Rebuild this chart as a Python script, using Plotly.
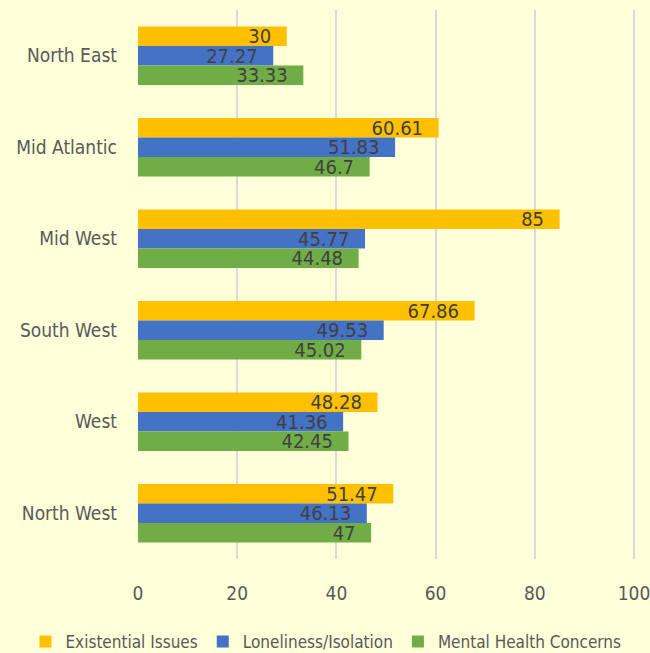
import plotly.graph_objects as go

regions = ["North East", "Mid Atlantic", "Mid West", "South West", "West", "North West"]
existential = [30, 60.61, 85, 67.86, 48.28, 51.47]
loneliness = [27.27, 51.83, 45.77, 49.53, 41.36, 46.13]
mental = [33.33, 46.7, 44.48, 45.02, 42.45, 47]
x_ticks = [0, 20, 40, 60, 80, 100]

series = [
    ("Existential Issues", existential, "#FFC000"),
    ("Loneliness/Isolation", loneliness, "#4472C4"),
    ("Mental Health Concerns", mental, "#70AD47"),
]

FONT = "DejaVu Sans Condensed, Liberation Sans Narrow, sans-serif"

fig = go.Figure()
for name, vals, color in series:
    fig.add_trace(go.Bar(
        y=regions, x=vals, name=name, orientation="h",
        marker=dict(color=color, line=dict(width=0)),
        text=[f"{v:g}" for v in vals],
        texttemplate="%{text}\u2002\u2009",
        textposition="inside", insidetextanchor="end",
        textfont=dict(color="#404040", size=20, family=FONT),
        constraintext="none", cliponaxis=False,
    ))

fig.update_layout(
    width=650, height=653,
    margin=dict(l=138, r=14, t=10, b=94, autoexpand=False),
    paper_bgcolor="#FFFFDA", plot_bgcolor="#FFFFDA",
    barmode="group", bargap=0.36, bargroupgap=0,
    font=dict(family=FONT, color="#595959", size=17),
    showlegend=True,
    legend=dict(orientation="h", x=-0.226, xanchor="left", y=-0.151, yanchor="middle",
                font=dict(size=17, color="#595959", family=FONT), traceorder="normal",
                bgcolor="rgba(0,0,0,0)", borderwidth=0),
    uniformtext=dict(mode=False),
)
fig.update_xaxes(range=[0, 100.4], tickvals=x_ticks, showgrid=True, gridcolor="#D9D9D9",
                 gridwidth=1.5, zeroline=False, showline=False, ticklabeloverflow="allow",
                 automargin=False,
                 tickfont=dict(size=19, color="#595959"), ticks="", ticklabelstandoff=21)
fig.update_yaxes(autorange="reversed", showgrid=False, showline=False, ticks="",
                 automargin=False,
                 tickfont=dict(size=19, color="#595959"), ticklabelstandoff=20)

fig.write_html("out.html", config={"displayModeBar": False},
               post_script="document.body.style.margin='0';document.body.style.overflow='hidden';")
